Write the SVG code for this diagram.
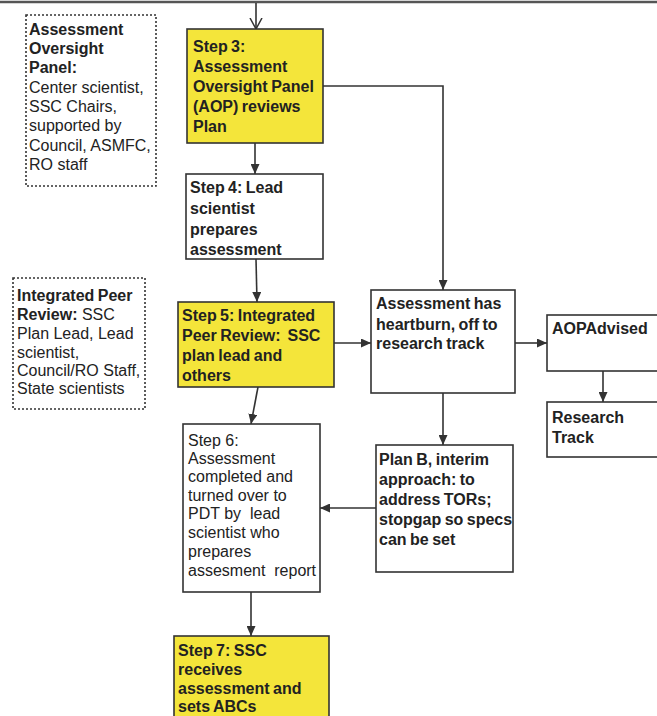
<svg xmlns="http://www.w3.org/2000/svg" width="657" height="716" viewBox="0 0 657 716">
<style>
text{font-family:"Liberation Sans",Arial,sans-serif;font-size:16px;fill:#222}
.b{font-weight:bold;word-spacing:-1px}
.box{fill:#fff;stroke:#333;stroke-width:1.6}
.yel{fill:#f4e53a;stroke:#333;stroke-width:1.6}
.dot{fill:#fff;stroke:#333;stroke-width:1.6;stroke-dasharray:2 2}
.con{fill:none;stroke:#333;stroke-width:1.6}
</style>
<defs>
<marker id="ah" markerUnits="userSpaceOnUse" markerWidth="10" markerHeight="9" refX="10" refY="4.5" orient="auto"><path d="M0,0 L10,4.5 L0,9 z" fill="#333"/></marker>
<marker id="av" markerUnits="userSpaceOnUse" markerWidth="12" markerHeight="14" refX="11" refY="7" orient="auto"><path d="M0,1 L11,7 L0,13" fill="none" stroke="#333" stroke-width="1.5"/></marker>
</defs>
<rect width="657" height="716" fill="#fff"/>
<line x1="0" y1="2" x2="657" y2="2" stroke="#555" stroke-width="2.5"/>

<g id="connectors">
<line class="con" x1="256" y1="3" x2="256" y2="29" marker-end="url(#av)"/>
<line class="con" x1="255" y1="143" x2="255" y2="174" marker-end="url(#ah)"/>
<line class="con" x1="256" y1="259" x2="257" y2="302" marker-end="url(#ah)"/>
<line class="con" x1="258" y1="387" x2="251" y2="424" marker-end="url(#ah)"/>
<polyline class="con" points="323,86 443,86 443,290" marker-end="url(#ah)"/>
<line class="con" x1="334" y1="343" x2="371" y2="343" marker-end="url(#ah)"/>
<line class="con" x1="515" y1="343" x2="547" y2="343" marker-end="url(#ah)"/>
<line class="con" x1="603" y1="371" x2="603" y2="402" marker-end="url(#ah)"/>
<line class="con" x1="443" y1="393" x2="443" y2="445" marker-end="url(#ah)"/>
<line class="con" x1="376" y1="508" x2="320" y2="508" marker-end="url(#ah)"/>
<line class="con" x1="251" y1="592" x2="251" y2="636" marker-end="url(#ah)"/>
</g>

<g id="aop-panel">
<rect class="dot" x="26" y="15" width="130" height="171"/>
<text class="b" x="29" y="35">Assessment</text>
<text class="b" x="29" y="54">Oversight</text>
<text class="b" x="29" y="73">Panel:</text>
<text x="29" y="93">Center scientist,</text>
<text x="29" y="112">SSC Chairs,</text>
<text x="29" y="131">supported by</text>
<text x="29" y="151">Council, ASMFC,</text>
<text x="29" y="170">RO staff</text>
</g>

<g id="peer-review-panel">
<rect class="dot" x="13" y="278" width="132" height="131"/>
<text class="b" x="17" y="301">Integrated Peer</text>
<text x="17" y="320"><tspan class="b">Review:</tspan> SSC</text>
<text x="17" y="339">Plan Lead, Lead</text>
<text x="17" y="358">scientist,</text>
<text x="17" y="376">Council/RO Staff,</text>
<text x="17" y="394">State scientists</text>
</g>

<g id="step3">
<rect class="yel" x="187" y="29" width="136" height="114"/>
<text class="b" x="193" y="52">Step 3:</text>
<text class="b" x="193" y="72">Assessment</text>
<text class="b" x="193" y="92">Oversight Panel</text>
<text class="b" x="193" y="112">(AOP) reviews</text>
<text class="b" x="193" y="132">Plan</text>
</g>

<g id="step4">
<rect class="box" x="186" y="174" width="137" height="85"/>
<text class="b" x="190" y="193">Step 4: Lead</text>
<text class="b" x="190" y="214">scientist</text>
<text class="b" x="190" y="235">prepares</text>
<text class="b" x="190" y="255">assessment</text>
</g>

<g id="step5">
<rect class="yel" x="178" y="302" width="156" height="85"/>
<text class="b" x="182" y="321">Step 5: Integrated</text>
<text class="b" x="182" y="341" xml:space="preserve">Peer Review:  SSC</text>
<text class="b" x="182" y="361">plan lead and</text>
<text class="b" x="182" y="381">others</text>
</g>

<g id="heartburn">
<rect class="box" x="371" y="290" width="144" height="103"/>
<text class="b" x="376" y="309">Assessment has</text>
<text class="b" x="376" y="330">heartburn, off to</text>
<text class="b" x="376" y="349">research track</text>
</g>

<g id="aop-advised">
<rect class="box" x="547" y="315" width="120" height="56"/>
<text class="b" x="552" y="334">AOPAdvised</text>
</g>

<g id="research-track">
<rect class="box" x="547" y="402" width="120" height="55"/>
<text class="b" x="552" y="423">Research</text>
<text class="b" x="552" y="443">Track</text>
</g>

<g id="planb">
<rect class="box" x="376" y="445" width="137" height="127"/>
<text class="b" x="379" y="465">Plan B, interim</text>
<text class="b" x="379" y="485">approach: to</text>
<text class="b" x="379" y="505">address TORs;</text>
<text class="b" x="379" y="525">stopgap so specs</text>
<text class="b" x="379" y="545">can be set</text>
</g>

<g id="step6">
<rect class="box" x="183" y="424" width="137" height="168"/>
<text x="188" y="446">Step 6:</text>
<text x="188" y="464">Assessment</text>
<text x="188" y="482">completed and</text>
<text x="188" y="501">turned over to</text>
<text x="188" y="519" xml:space="preserve">PDT by  lead</text>
<text x="188" y="538">scientist who</text>
<text x="188" y="557">prepares</text>
<text x="188" y="576" xml:space="preserve">assesment  report</text>
</g>

<g id="step7">
<rect class="yel" x="174" y="636" width="155" height="90"/>
<text class="b" x="178" y="656">Step 7: SSC</text>
<text class="b" x="178" y="675">receives</text>
<text class="b" x="178" y="694">assessment and</text>
<text class="b" x="178" y="712">sets ABCs</text>
</g>
</svg>
